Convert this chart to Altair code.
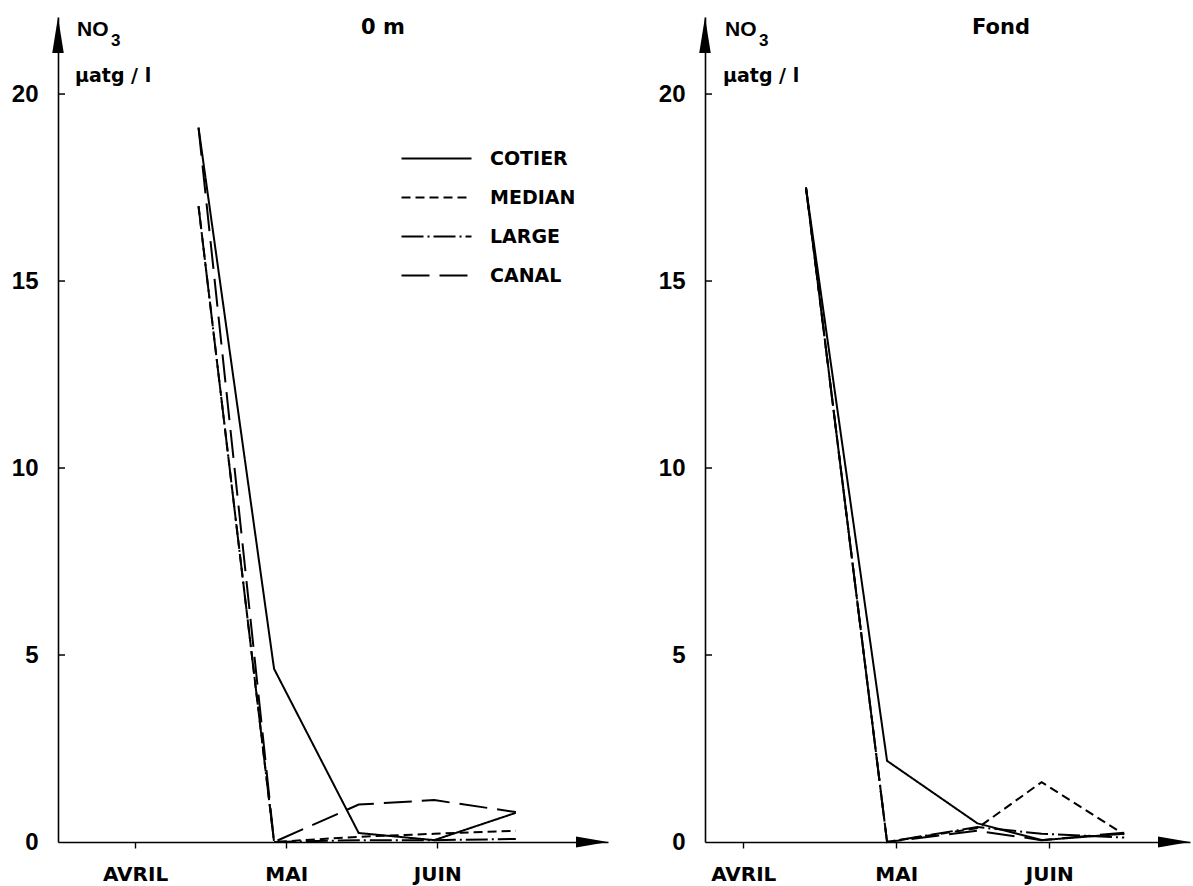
import altair as alt
import pandas as pd

# Stations and their line styles
SERIES = ["COTIER", "MEDIAN", "LARGE", "CANAL"]
DASHES = [[1, 0], [9, 5], [22, 4, 2, 4], [28, 10]]

# Month axis (months counted from mid-April)
MOIS_POS = [0, 1, 2]
MOIS_NOMS = ["AVRIL", "MAI", "JUIN"]
Y_LABELS = [0, 5, 10, 15, 20]
Y_INNER_TICKS = [5, 10, 15, 20]
Y_MAX = 22.06

# Surface (0 m)
dates_0m = [0.42, 0.92, 1.48, 1.98, 2.52]
cotier_0m = [19.1, 4.63, 0.24, 0.05, 0.78]
median_0m = [17.0, 0.0, 0.14, 0.22, 0.30]
large_0m = [17.0, 0.0, 0.05, 0.05, 0.08]
canal_0m = [19.1, 0.0, 1.0, 1.12, 0.80]
xdom_0m = [-0.51, 3.13]

# Bottom (Fond)
dates_fond = [0.41, 0.94, 1.53, 1.95, 2.49]
cotier_fond = [17.5, 2.17, 0.50, 0.05, 0.22]
median_fond = [17.5, 0.0, 0.37, 1.60, 0.20]
large_fond = [17.5, 0.0, 0.40, 0.22, 0.12]
canal_fond = [17.5, 0.0, 0.30, 0.05, 0.25]
xdom_fond = [-0.25, 2.92]

NUM_FONT = "Liberation Sans"
TXT_FONT = "DejaVu Sans"


def frame(dates, values):
    rows = []
    for serie, vals in zip(SERIES, values):
        for d, v in zip(dates, vals):
            rows.append({"serie": serie, "mois": d, "no3": v})
    return pd.DataFrame(rows)


def text_layer(txt, x, y, font, size, align="left", baseline="alphabetic"):
    return alt.Chart(pd.DataFrame({"t": [txt]})).mark_text(
        font=font, fontSize=size, fontWeight="bold", color="black",
        align=align, baseline=baseline,
    ).encode(text="t:N", x=alt.value(x), y=alt.value(y))


def panel(dates, values, xdom, title, title_x, unit_x, width, show_legend):
    df = frame(dates, values)
    xscale = alt.Scale(domain=xdom, nice=False, zero=False)
    yscale = alt.Scale(domain=[0, Y_MAX], nice=False, zero=False)

    xaxis = alt.Axis(
        values=MOIS_POS,
        labelExpr="['AVRIL','MAI','JUIN'][round(datum.value)]",
        title=None, grid=False, domainColor="black", domainWidth=1.6,
        tickColor="black", tickSize=6, tickWidth=1.4,
        labelFont=TXT_FONT, labelFontSize=20, labelFontWeight="bold",
        labelColor="black", labelPadding=26, labelBaseline="middle",
    )
    yaxis = alt.Axis(
        values=Y_LABELS, title=None,
        grid=False, ticks=False, tickSize=0, domainColor="black",
        domainWidth=1.6, labelFont=NUM_FONT, labelFontSize=24,
        labelFontWeight="bold", labelColor="black", labelPadding=20,
    )

    if show_legend:
        legend = alt.Legend(
            orient="none", legendX=369, legendY=132, title=None,
            symbolType="M-5,0H5", symbolSize=196, symbolStrokeWidth=2,
            symbolStrokeColor="black", labelFont=TXT_FONT, labelFontSize=19,
            labelFontWeight="bold", labelColor="black", labelOffset=44,
            rowPadding=19, padding=0,
        )
    else:
        legend = None

    lines = alt.Chart(df).mark_line(color="black", strokeWidth=2).encode(
        x=alt.X("mois:Q", scale=xscale, axis=xaxis),
        y=alt.Y("no3:Q", scale=yscale, axis=yaxis),
        strokeDash=alt.StrokeDash(
            "serie:N", scale=alt.Scale(domain=SERIES, range=DASHES),
            legend=legend,
        ),
        detail="serie:N",
    )

    ticks = alt.Chart(pd.DataFrame({"v": Y_INNER_TICKS})).mark_rule(
        color="black", strokeWidth=1.5
    ).encode(y="v:Q", x=alt.value(0), x2=alt.value(7))

    y_arrow = alt.Chart(pd.DataFrame({"x": [xdom[0]], "y": [Y_MAX]})).mark_point(
        shape="M0,0L0.16,1L-0.16,1Z", size=5184, filled=True,
        color="black", opacity=1,
    ).encode(x="x:Q", y="y:Q")

    x_arrow = alt.Chart(pd.DataFrame({"x": [xdom[1]], "y": [0]})).mark_point(
        shape="M0,0L-1,-0.17L-1,0.17Z", size=4096, filled=True,
        color="black", opacity=1,
    ).encode(x="x:Q", y="y:Q")

    label = text_layer(title, title_x, 11, TXT_FONT, 21, "center", "middle")
    no = text_layer("NO", unit_x, 19, NUM_FONT, 21)
    three = text_layer("3", unit_x + 34, 29, NUM_FONT, 17)
    unit = text_layer("µatg / l", unit_x - 2, 65, TXT_FONT, 19)

    return alt.layer(lines, ticks, y_arrow, x_arrow, label, no, three, unit).properties(
        width=width, height=825
    )


left = panel(dates_0m, [cotier_0m, median_0m, large_0m, canal_0m],
             xdom_0m, "0 m", 325, 19, 550, True)
right = panel(dates_fond, [cotier_fond, median_fond, large_fond, canal_fond],
              xdom_fond, "Fond", 296, 20, 485, False)

chart = alt.hconcat(left, right, spacing=97, bounds="flush").resolve_scale(
    x="independent", y="independent", strokeDash="shared"
).resolve_legend(strokeDash="independent").properties(
    padding={"left": 11, "top": 17, "right": 3, "bottom": 4},
    background="white",
).configure_view(stroke=None)

chart.save("out.html", embed_options={"renderer": "svg", "actions": False})
